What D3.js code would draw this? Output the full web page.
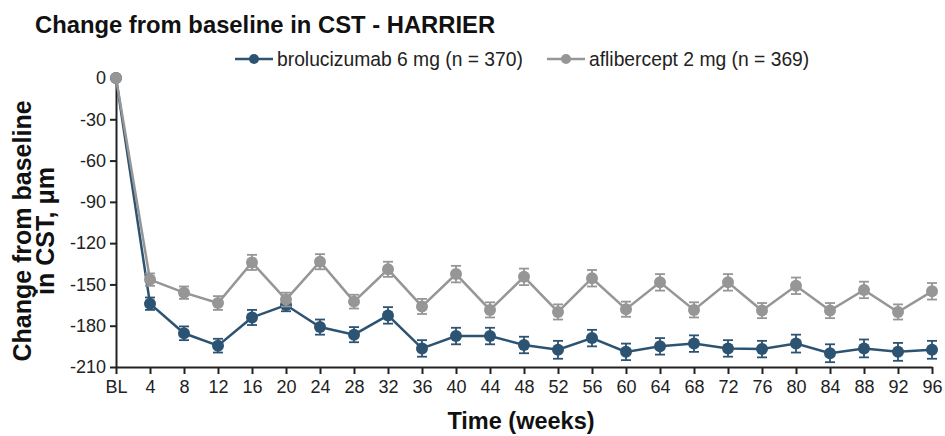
<!DOCTYPE html>
<html>
<head>
<meta charset="utf-8">
<script src="https://cdn.jsdelivr.net/npm/d3@7"></script>
<style>
body { margin: 0; background: #fff; }
svg text { font-family: "Liberation Sans", Arial, sans-serif; }
.axis path, .axis line { stroke: #222; }
</style>
</head>
<body>
<div class="chart1"></div>
<script>
// week labels on the x axis (BL = baseline)
var weekLabels = ["BL","4","8","12","16","20","24","28","32","36","40","44","48","52","56","60","64","68","72","76","80","84","88","92","96"];
var yTicks = [0, -30, -60, -90, -120, -150, -180, -210];

var seriesNames = ["brolucizumab 6 mg (n = 370)", "aflibercept 2 mg (n = 369)"];
var seriesColors = ["#2d5373", "#969696"];

// mean change from baseline in CST (um)
var brolucizumab = [0, -164, -185.5, -194.5, -174, -165, -181, -186.5, -172.5, -196.5, -187.5, -187.5, -194, -197.5, -189, -199, -195, -193, -196.5, -197, -193, -200, -196.5, -199, -197.5];
var aflibercept = [0, -146.5, -156, -163.5, -134, -161, -133.5, -162.5, -139, -166, -142.5, -168.5, -144.5, -170, -145.5, -168, -148.5, -168.5, -148.5, -169, -151, -169, -154, -170, -155];
// standard error, half of the error bar
var brolucizumabSE = [0, 4.5, 5, 5, 5.5, 4.5, 5.5, 5.5, 6, 6, 6, 6, 6, 6.5, 6, 6, 6, 6, 6, 6, 6.5, 6.5, 6.5, 6.5, 6.5];
var afliberceptSE = [0, 4.5, 4.5, 5, 5.5, 5, 5.5, 5, 5.5, 5.5, 6, 5.5, 6, 5.5, 6, 5.5, 6, 5.5, 6, 5.5, 6, 5.5, 6, 5.5, 6];

var width = 945, height = 436;
var margin = {top: 78, right: 13, bottom: 69, left: 116};
var w = width - margin.left - margin.right,
	h = height - margin.top - margin.bottom;

var x = d3.scalePoint().domain(weekLabels).range([0, w]);
var y = d3.scaleLinear().domain([0, -210]).range([0, h]);

var svg = d3.select(".chart1")
	.append("svg")
	.attr("width", width)
	.attr("height", height);

// chart title
svg.append("text")
	.attr("x", 35)
	.attr("y", 33)
	.style("font-size", "23.8px")
	.style("font-weight", "bold")
	.style("fill", "#111")
	.text("Change from baseline in CST - HARRIER");

var g = svg.append("g")
	.attr("transform", "translate(" + margin.left + "," + margin.top + ")");

// axes
g.append("g")
	.attr("class", "axis")
	.attr("transform", "translate(0," + h + ")")
	.call(d3.axisBottom(x).tickSize(7).tickSizeOuter(0).tickPadding(6))
	.call(function(s){ s.select(".domain").attr("stroke-width", 2); })
	.call(function(s){ s.selectAll(".tick line").attr("stroke-width", 2); })
	.selectAll("text")
	.style("font-size", "18px")
	.style("fill", "#222");

g.append("g")
	.attr("class", "axis")
	.call(d3.axisLeft(y).tickValues(yTicks).tickSize(6).tickSizeOuter(0).tickPadding(4)
		.tickFormat(function(d){ return String(d); })) // plain hyphen for minus
	.call(function(s){ s.select(".domain").attr("stroke-width", 2); })
	.call(function(s){ s.selectAll(".tick line").attr("stroke-width", 2); })
	.selectAll("text")
	.style("font-size", "18px")
	.style("fill", "#222");

// y axis title (two lines)
var yt = svg.append("text")
	.attr("transform", "translate(0,231) rotate(-90)")
	.style("font-size", "25px")
	.style("font-weight", "bold")
	.style("fill", "#111")
	.style("text-anchor", "middle");
yt.append("tspan").attr("x", 0).attr("y", 31).text("Change from baseline");
yt.append("tspan").attr("x", 0).attr("y", 54).text("in CST, \u03bcm");

// x axis title
svg.append("text")
	.attr("x", 521)
	.attr("y", 429)
	.style("font-size", "23.5px")
	.style("font-weight", "bold")
	.style("fill", "#111")
	.style("text-anchor", "middle")
	.text("Time (weeks)");

// series, blue first so grey sits on top
var series = [
	{name: seriesNames[0], color: seriesColors[0], values: brolucizumab, se: brolucizumabSE},
	{name: seriesNames[1], color: seriesColors[1], values: aflibercept, se: afliberceptSE}
];

var line = d3.line()
	.x(function(d, i){ return x(weekLabels[i]); })
	.y(function(d){ return y(d); });

series.forEach(function(s){
	var pts = s.values.map(function(v, i){ return {wk: weekLabels[i], v: v, se: s.se[i]}; });
	var sg = g.append("g");
	sg.append("path")
		.datum(s.values)
		.attr("d", line)
		.attr("fill", "none")
		.attr("stroke", s.color)
		.attr("stroke-width", 2.5);
	// error bars
	var eb = sg.selectAll(".eb")
		.data(pts.filter(function(d){ return d.se > 0; }))
		.enter()
		.append("g")
		.attr("stroke", s.color)
		.attr("stroke-width", 1.8);
	eb.append("line")
		.attr("x1", function(d){ return x(d.wk); })
		.attr("x2", function(d){ return x(d.wk); })
		.attr("y1", function(d){ return y(d.v + d.se); })
		.attr("y2", function(d){ return y(d.v - d.se); });
	eb.append("line")
		.attr("x1", function(d){ return x(d.wk) - 5; })
		.attr("x2", function(d){ return x(d.wk) + 5; })
		.attr("y1", function(d){ return y(d.v + d.se); })
		.attr("y2", function(d){ return y(d.v + d.se); });
	eb.append("line")
		.attr("x1", function(d){ return x(d.wk) - 5; })
		.attr("x2", function(d){ return x(d.wk) + 5; })
		.attr("y1", function(d){ return y(d.v - d.se); })
		.attr("y2", function(d){ return y(d.v - d.se); });
	sg.selectAll("circle")
		.data(pts)
		.enter()
		.append("circle")
		.attr("cx", function(d){ return x(d.wk); })
		.attr("cy", function(d){ return y(d.v); })
		.attr("r", 6)
		.attr("fill", s.color);
});

// legend
var legX = [235, 547];
series.forEach(function(s, i){
	var lg = svg.append("g").attr("transform", "translate(" + legX[i] + ",59)");
	lg.append("line")
		.attr("x1", 0).attr("x2", 38)
		.attr("y1", 0).attr("y2", 0)
		.attr("stroke", s.color)
		.attr("stroke-width", 2.5);
	lg.append("circle")
		.attr("cx", 19).attr("cy", 0).attr("r", 5)
		.attr("fill", s.color);
	lg.append("text")
		.attr("x", 42)
		.attr("y", 7)
		.style("font-size", "19.3px")
		.style("fill", "#222")
		.text(s.name);
});
</script>
</body>
</html>
